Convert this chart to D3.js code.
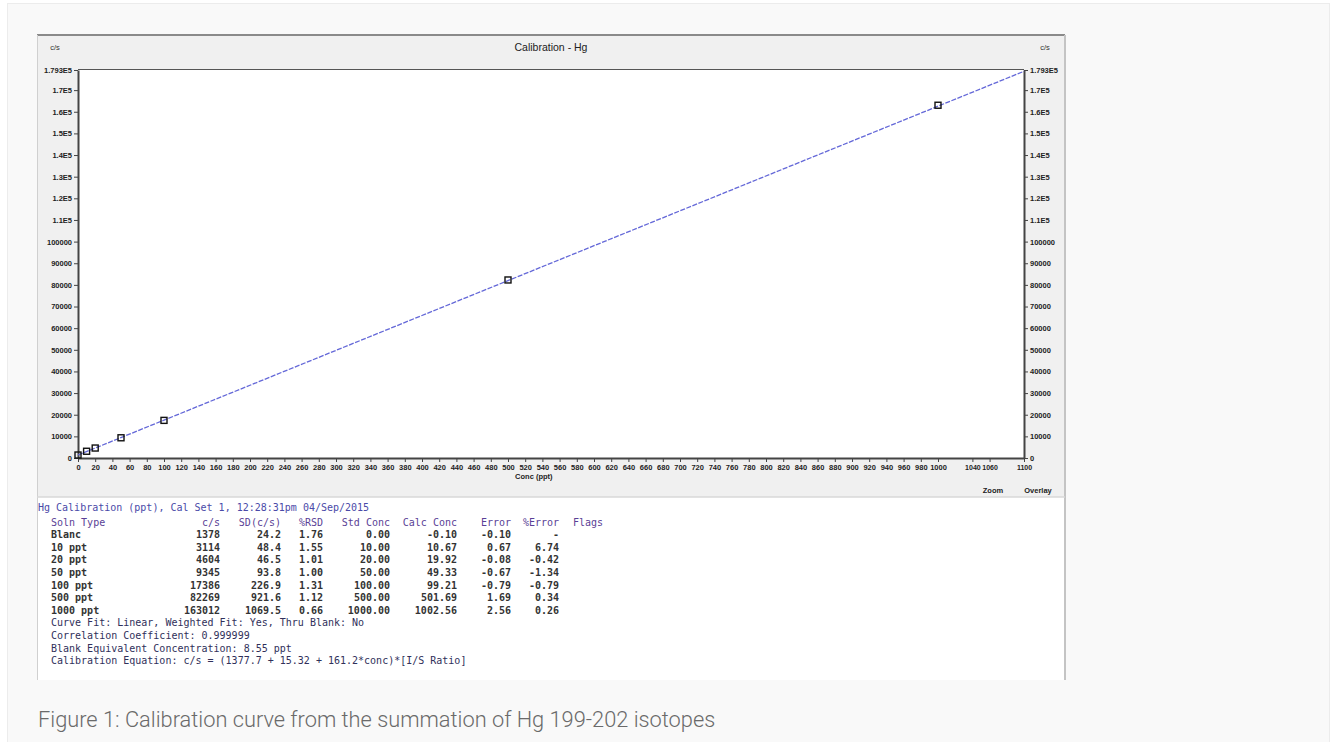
<!DOCTYPE html>
<html>
<head>
<meta charset="utf-8">
<script src="https://cdn.jsdelivr.net/npm/d3@7"></script>
<style>
  html, body { margin: 0; padding: 0; background: #ffffff; }
  svg { display: block; }
</style>
</head>
<body>
<svg id="chart" width="1336" height="742"></svg>
<script>
// ---------------- data ----------------
const solnTypes   = ["Blanc", "10 ppt", "20 ppt", "50 ppt", "100 ppt", "500 ppt", "1000 ppt"];
const stdConc     = [0, 10, 20, 50, 100, 500, 1000];
const counts      = [1378, 3114, 4604, 9345, 17386, 82269, 163012];
const sdCounts    = ["24.2", "48.4", "46.5", "93.8", "226.9", "921.6", "1069.5"];
const rsdPct      = ["1.76", "1.55", "1.01", "1.00", "1.31", "1.12", "0.66"];
const stdConcText = ["0.00", "10.00", "20.00", "50.00", "100.00", "500.00", "1000.00"];
const calcConc    = ["-0.10", "10.67", "19.92", "49.33", "99.21", "501.69", "1002.56"];
const errorVals   = ["-0.10", "0.67", "-0.08", "-0.67", "-0.79", "1.69", "2.56"];
const errorPct    = ["-", "6.74", "-0.42", "-1.34", "-0.79", "0.34", "0.26"];

// calibration fit (from the calibration equation)
const fitIntercept = 1377.7;
const fitSlope = 161.2;

const xDomain = [0, 1100];
const yDomain = [0, 179300];
const xTickValues = [0,20,40,60,80,100,120,140,160,180,200,220,240,260,280,300,320,340,360,380,400,
  420,440,460,480,500,520,540,560,580,600,620,640,660,680,700,720,740,760,780,800,820,840,860,880,900,
  920,940,960,980,1000,1040,1060,1100];
const yTickValues = [0,10000,20000,30000,40000,50000,60000,70000,80000,90000,100000,
  110000,120000,130000,140000,150000,160000,170000,179300];
const yTickLabels = ["0","10000","20000","30000","40000","50000","60000","70000","80000","90000","100000",
  "1.1E5","1.2E5","1.3E5","1.4E5","1.5E5","1.6E5","1.7E5","1.793E5"];

const headerCols = ["Soln Type", "c/s", "SD(c/s)", "%RSD", "Std Conc", "Calc Conc", "Error", "%Error", "Flags"];
const titleLine = "Hg Calibration (ppt), Cal Set 1, 12:28:31pm 04/Sep/2015";
const footerLines = [
  "Curve Fit: Linear, Weighted Fit: Yes, Thru Blank: No",
  "Correlation Coefficient: 0.999999",
  "Blank Equivalent Concentration: 8.55 ppt",
  "Calibration Equation: c/s = (1377.7 + 15.32 + 161.2*conc)*[I/S Ratio]"
];
const captionText = "Figure 1: Calibration curve from the summation of Hg 199-202 isotopes";

// ---------------- drawing ----------------
const svg = d3.select("#chart");

// page card
svg.append("rect").attr("x", 0).attr("y", 0).attr("width", 1336).attr("height", 742).attr("fill", "#ffffff");
svg.append("rect").attr("x", 7.5).attr("y", 3.5).attr("width", 1322).attr("height", 745)
  .attr("fill", "#f9f9f9").attr("stroke", "#ececec").attr("stroke-width", 1);

// screenshot panel (chart area)
const panel = {x: 37, y: 35, w: 1028, h: 462};
svg.append("rect").attr("x", panel.x).attr("y", panel.y).attr("width", panel.w).attr("height", panel.h)
  .attr("fill", "#f0f0f0");
// table area
svg.append("rect").attr("x", panel.x).attr("y", 497).attr("width", panel.w).attr("height", 183)
  .attr("fill", "#ffffff");
// borders
svg.append("line").attr("x1", panel.x).attr("x2", panel.x + panel.w).attr("y1", 35).attr("y2", 35)
  .attr("stroke", "#8a8a8a").attr("stroke-width", 2);
svg.append("line").attr("x1", panel.x + 0.5).attr("x2", panel.x + 0.5).attr("y1", 35).attr("y2", 680)
  .attr("stroke", "#d0d0d0").attr("stroke-width", 1);
svg.append("line").attr("x1", panel.x + panel.w).attr("x2", panel.x + panel.w).attr("y1", 35).attr("y2", 680)
  .attr("stroke", "#c4c4c4").attr("stroke-width", 2);
svg.append("line").attr("x1", panel.x).attr("x2", panel.x + panel.w).attr("y1", 497).attr("y2", 497)
  .attr("stroke", "#d8d8d8").attr("stroke-width", 1.5);

// plot area
const plot = {left: 78, right: 1024, top: 70, bottom: 458};
const x = d3.scaleLinear().domain(xDomain).range([plot.left, plot.right]);
const y = d3.scaleLinear().domain(yDomain).range([plot.bottom, plot.top]);

svg.append("rect").attr("x", plot.left).attr("y", plot.top)
  .attr("width", plot.right - plot.left).attr("height", plot.bottom - plot.top).attr("fill", "#ffffff");
svg.append("line").attr("x1", plot.left).attr("x2", plot.right).attr("y1", plot.top - 0.5).attr("y2", plot.top - 0.5)
  .attr("stroke", "#555").attr("stroke-width", 1);

const tickFont = "'Liberation Sans', Arial, sans-serif";
const tickSize = 7.5;

function styleAxis(g) {
  g.select(".domain").attr("stroke", "#444").attr("stroke-width", 2);
  g.selectAll(".tick line").attr("stroke", "#444");
  g.selectAll(".tick text").attr("font-family", tickFont).attr("font-size", tickSize).attr("fill", "#222")
    .attr("font-weight", "bold");
}

// x axis
const xAxis = d3.axisBottom(x).tickValues(xTickValues).tickSize(4).tickSizeOuter(0).tickPadding(3)
  .tickFormat(d3.format("d"));
const gx = svg.append("g").attr("transform", `translate(0,${plot.bottom})`).call(xAxis);
styleAxis(gx);
gx.selectAll(".tick text").attr("font-size", d => d > 1000 ? 7 : tickSize);

// left y axis
const yAxisL = d3.axisLeft(y).tickValues(yTickValues).tickSize(4).tickSizeOuter(0).tickPadding(2)
  .tickFormat((d, i) => yTickLabels[i]);
const gyl = svg.append("g").attr("transform", `translate(${plot.left},0)`).call(yAxisL);
styleAxis(gyl);

// right y axis
const yAxisR = d3.axisRight(y).tickValues(yTickValues).tickSize(4).tickSizeOuter(0).tickPadding(2)
  .tickFormat((d, i) => yTickLabels[i]);
const gyr = svg.append("g").attr("transform", `translate(${plot.right},0)`).call(yAxisR);
styleAxis(gyr);

// fit line
const fitPts = xDomain.map(c => [c, fitIntercept + fitSlope * c]);
svg.append("path").datum(fitPts)
  .attr("d", d3.line().x(d => x(d[0])).y(d => y(d[1])))
  .attr("fill", "none").attr("stroke", "#6468d8").attr("stroke-width", 1.3)
  .attr("stroke-dasharray", "5,1.5");

// calibration points
const sq = 6;
svg.append("g").selectAll("rect").data(stdConc).join("rect")
  .attr("x", (d) => x(d) - sq / 2).attr("y", (d, i) => y(counts[i]) - sq / 2)
  .attr("width", sq).attr("height", sq)
  .attr("fill", "none").attr("stroke", "#111").attr("stroke-width", 1.4);

// chart titles / labels
svg.append("text").attr("x", 551).attr("y", 51).attr("text-anchor", "middle")
  .attr("font-family", tickFont).attr("font-size", 10.5).attr("fill", "#222").text("Calibration - Hg");
svg.append("text").attr("x", 55).attr("y", 50).attr("text-anchor", "middle")
  .attr("font-family", tickFont).attr("font-size", 7.5).attr("fill", "#333").text("c/s");
svg.append("text").attr("x", 1045).attr("y", 50).attr("text-anchor", "middle")
  .attr("font-family", tickFont).attr("font-size", 7.5).attr("fill", "#333").text("c/s");
svg.append("text").attr("x", x(530)).attr("y", 479).attr("text-anchor", "middle")
  .attr("font-family", tickFont).attr("font-size", 7.5).attr("font-weight", "bold").attr("fill", "#222").text("Conc (ppt)");
svg.append("text").attr("x", 993).attr("y", 493).attr("text-anchor", "middle")
  .attr("font-family", tickFont).attr("font-size", 7.5).attr("font-weight", "bold").attr("fill", "#222").text("Zoom");
svg.append("text").attr("x", 1038).attr("y", 493).attr("text-anchor", "middle")
  .attr("font-family", tickFont).attr("font-size", 7.5).attr("font-weight", "bold").attr("fill", "#222").text("Overlay");

// ---------------- table ----------------
const mono = "'DejaVu Sans Mono', 'Liberation Mono', monospace";
const rowH = 12.6;
const yTitle = 510.5;
const yHeader = 525.5;
const colX = [51, 220, 281, 323, 390, 457, 511, 559, 573];
const colAnchor = ["start", "end", "end", "end", "end", "end", "end", "end", "start"];

svg.append("text").attr("x", 38).attr("y", yTitle).attr("font-family", mono).attr("font-size", 10)
  .attr("fill", "#4a4aa8").text(titleLine);

svg.append("g").selectAll("text").data(headerCols).join("text")
  .attr("x", (d, i) => colX[i]).attr("y", yHeader).attr("text-anchor", (d, i) => colAnchor[i])
  .attr("font-family", mono).attr("font-size", 10).attr("fill", "#5a3f96").text(d => d);

const rows = solnTypes.map((s, i) => [s, String(counts[i]), sdCounts[i], rsdPct[i], stdConcText[i],
  calcConc[i], errorVals[i], errorPct[i], ""]);
const rowG = svg.append("g").selectAll("g").data(rows).join("g")
  .attr("transform", (d, i) => `translate(0,${yHeader + rowH * (i + 1)})`);
rowG.selectAll("text").data(d => d).join("text")
  .attr("x", (d, i) => colX[i]).attr("text-anchor", (d, i) => colAnchor[i])
  .attr("font-family", mono).attr("font-size", 10).attr("font-weight", "bold")
  .attr("fill", "#333").text(d => d);

svg.append("g").selectAll("text").data(footerLines).join("text")
  .attr("x", 51).attr("y", (d, i) => yHeader + rowH * (rows.length + 1 + i))
  .attr("font-family", mono).attr("font-size", 10).attr("fill", "#30305a").text(d => d);

// caption
svg.append("text").attr("x", 38).attr("y", 727)
  .attr("font-family", "Roboto, 'Open Sans', sans-serif").attr("font-weight", 300)
  .attr("font-size", 21.8).attr("fill", "#6a6a6a").text(captionText);
</script>
</body>
</html>
